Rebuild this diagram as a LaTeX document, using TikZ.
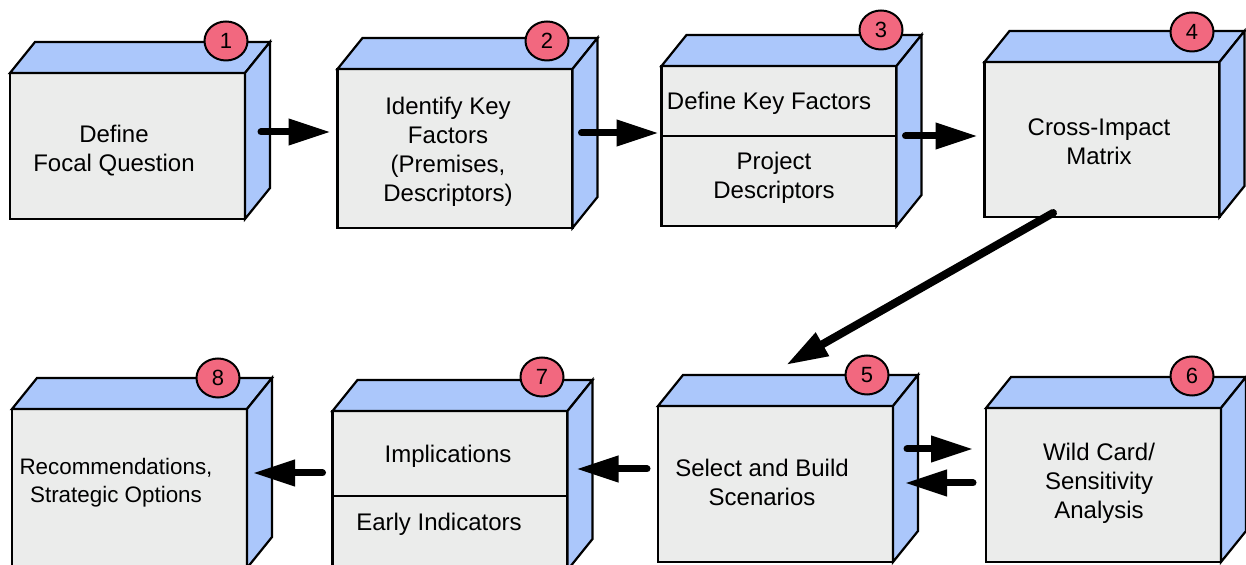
\documentclass[tikz,border=0pt]{standalone}
\usepackage{fontspec}
\setmainfont{Liberation Sans}
\usetikzlibrary{arrows.meta,shapes.geometric,calc}
\definecolor{facegrey}{HTML}{EBECEB}
\definecolor{sideblue}{HTML}{ABC7FB}
\definecolor{badgered}{HTML}{F2687F}

\begin{document}
\begin{tikzpicture}[
  x=0.5pt, y=-0.5pt,
  font=\fontsize{12}{14.5}\selectfont,
  front/.style={
    draw=black, line width=1.1pt, fill=facegrey,
    minimum width=117.5pt, outer sep=0pt, inner sep=0pt
  },
  face/.style={draw=black, line width=1.1pt, fill=sideblue, line join=miter},
  lbl/.style={align=center, inner sep=0pt},
  badge/.style={
    ellipse, draw=black, line width=1pt, fill=badgered,
    minimum width=21.5pt, minimum height=19.5pt, inner sep=0pt,
    font=\fontsize{11}{13}\selectfont
  },
  sep/.style={draw=black, line width=0.8pt},
  arr/.style={-{Triangle[length=21pt,width=12.5pt]}, line width=3.5pt, line cap=round}
]

\def\dx{25}
\def\dy{31}

\clip (0,0) rectangle (1246,565);
\fill[white] (0,0) rectangle (1246,565);

% front faces, top row then bottom row
\node[front, minimum height=73pt]   (b1) at (127.5,146)   {};
\node[front, minimum height=79.5pt] (b2) at (455,148.5)   {};
\node[front, minimum height=80pt]   (b3) at (779,146)     {};
\node[front, minimum height=77.5pt] (b4) at (1102,139.5)  {};
\node[front, minimum height=78pt]   (b5) at (775.5,484)   {};
\node[front, minimum height=77pt]   (b6) at (1103.5,485)  {};
\node[front, minimum height=79.5pt] (b7) at (450,490.5)   {};
\node[front, minimum height=79.5pt] (b8) at (129.5,488.5) {};

\foreach \b in {b1,b2,b3,b4,b5,b6,b7,b8} {
  \draw[face] (\b.north west) -- ++(\dx,-\dy) -- ([shift={(\dx,-\dy)}]\b.north east)
    -- (\b.north east) -- cycle;
  \draw[face] (\b.north east) -- ++(\dx,-\dy) -- ([shift={(\dx,-\dy)}]\b.south east)
    -- (\b.south east) -- cycle;
}

\draw[sep] ([shift={(0,-10)}]b3.west) -- ([shift={(0,-10)}]b3.east);
\draw[sep] ([shift={(0,5.5)}]b7.west) -- ([shift={(0,5.5)}]b7.east);

\node[lbl] (t1)  at (114,151)  {Define\\Focal Question};
\node[lbl] (t2)  at (448,152)  {Identify Key\\Factors\\(Premises,\\Descriptors)};
\node[lbl] (t3a) at (769,103)  {Define Key Factors};
\node[lbl] (t3b) at (774,178)  {Project\\Descriptors};
\node[lbl] (t4)  at (1099,142) {Cross-Impact\\Matrix};
\node[lbl] (t5)  at (762,482)  {Select and Build\\Scenarios};
\node[lbl] (t6)  at (1099,483) {Wild Card/\\Sensitivity\\Analysis};
\node[lbl] (t7a) at (448,456)  {Implications};
\node[lbl] (t7b) at (439,524)  {Early Indicators};
\node[lbl, font=\fontsize{11.2}{14}\selectfont] (t8) at (116,483)
  {Recommendations,\\Strategic Options};

\node[badge] (n1) at (226,41)  {1};
\node[badge] (n2) at (547,41)  {2};
\node[badge] (n3) at (881,30)  {3};
\node[badge] (n4) at (1192,32) {4};
\node[badge] (n5) at (867,375) {5};
\node[badge] (n6) at (1192,376) {6};
\node[badge] (n7) at (542,377) {7};
\node[badge] (n8) at (218,378) {8};

\draw[arr] ([shift={(16,-14)}]b1.east) -- ([shift={(-7,-16.5)}]b2.west);
\draw[arr] ([shift={(9,-15.5)}]b2.east) -- ([shift={(-3,-13)}]b3.west);
\draw[arr] ([shift={(9,-10)}]b3.east) -- ([shift={(-7,-3.5)}]b4.west);
\draw[arr, line width=4pt] ([shift={(-49,-4)}]b4.south) -- ([shift={(10.5,-41)}]b5.north);
\draw[arr] ([shift={(14,-35)}]b5.east) -- ([shift={(-13,-36)}]b6.west);
\draw[arr] ([shift={(-13,-2)}]b6.west) -- ([shift={(12,-1)}]b5.east);
\draw[arr] ([shift={(-11,-15)}]b5.west) -- ([shift={(9,-21.5)}]b7.east);
\draw[arr] ([shift={(-10,-17.5)}]b7.west) -- ([shift={(6,-15.5)}]b8.east);

\end{tikzpicture}
\end{document}
